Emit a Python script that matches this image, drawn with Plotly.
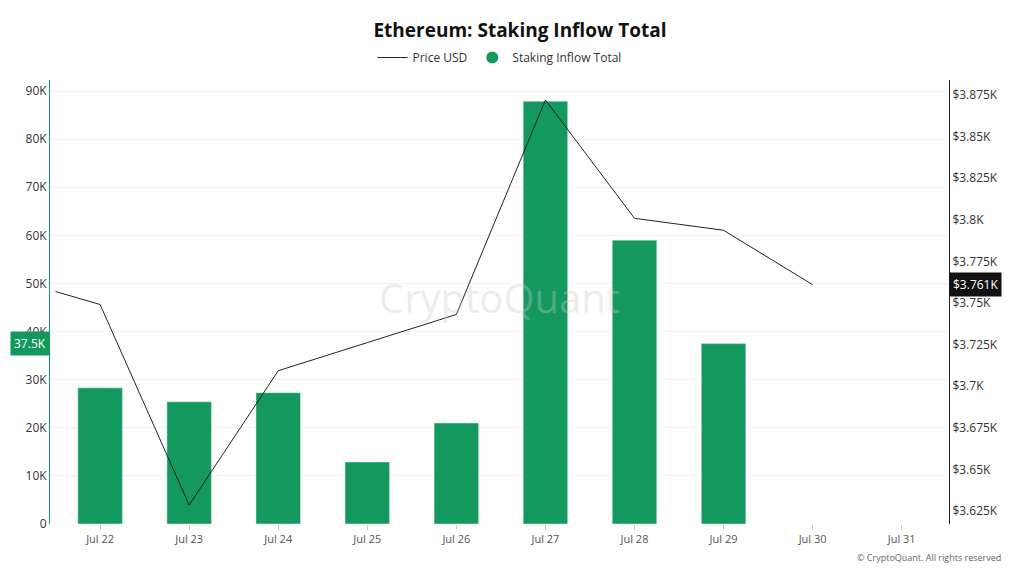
import plotly.graph_objects as go

# staking inflow per day (ETH)
bar_dates = ["2024-07-22", "2024-07-23", "2024-07-24", "2024-07-25", "2024-07-26",
             "2024-07-27", "2024-07-28", "2024-07-29"]
inflow = [28300, 25400, 27300, 12900, 21000, 87900, 59000, 37500]

# ETH price USD
price_dates = ["2024-07-21 12:00", "2024-07-22", "2024-07-23", "2024-07-24", "2024-07-25",
               "2024-07-26", "2024-07-27", "2024-07-28", "2024-07-29", "2024-07-30"]
price = [3756.9, 3749.1, 3628.6, 3709.3, 3726.2, 3743.1, 3872.0, 3800.9, 3793.7, 3761.0]

left_ticks = [0, 10000, 20000, 30000, 40000, 50000, 60000, 70000, 80000, 90000]
left_text = ["0", "10K", "20K", "30K", "40K", "50K", "60K", "70K", "80K", "90K"]
right_ticks = [3625, 3650, 3675, 3700, 3725, 3750, 3775, 3800, 3825, 3850, 3875]
right_text = ["$3.625K", "$3.65K", "$3.675K", "$3.7K", "$3.725K", "$3.75K",
              "$3.775K", "$3.8K", "$3.825K", "$3.85K", "$3.875K"]

green = "#13995d"

fig = go.Figure()
fig.add_trace(go.Scatter(x=price_dates, y=price, name="Price USD", mode="lines",
                         line=dict(color="#222222", width=1), yaxis="y2"))
fig.add_trace(go.Bar(x=bar_dates, y=inflow, name="Staking Inflow Total",
                     marker_color=green, width=0.5 * 86400000, showlegend=False))
# legend entry with round marker, as in the original
fig.add_trace(go.Scatter(x=[None], y=[None], name="Staking Inflow Total", mode="markers",
                         marker=dict(color=green, size=12, symbol="circle")))

fig.update_layout(
    width=1024, height=576,
    margin=dict(l=42, r=83, t=72, b=60, autoexpand=False),
    plot_bgcolor="white", paper_bgcolor="white",
    font=dict(family="Open Sans", size=12, color="#333"),
    title=dict(text="<b>Ethereum: Staking Inflow Total</b>", x=0.5, y=0.962,
               xanchor="center", yanchor="middle",
               font=dict(size=19, color="#111")),
    legend=dict(orientation="h", x=0.5, xanchor="center", yref="container", y=0.914,
                yanchor="middle", font=dict(size=12), traceorder="normal"),
    xaxis=dict(type="date", range=["2024-07-21 10:30", "2024-07-31 12:45"],
               tickvals=["2024-07-%02d" % d for d in range(22, 32)],
               ticktext=["Jul %d" % d for d in range(22, 32)],
               showgrid=False, ticks="outside", ticklen=5, tickcolor="#ccc",
               tickfont=dict(size=11, color="#555"), automargin=False),
    yaxis=dict(range=[0, 92300], tickvals=left_ticks, ticktext=left_text,
               showline=True, linecolor=green, linewidth=1, automargin=False,
               gridcolor="#f3f3f3", tickfont=dict(size=12, color="#333"), zeroline=False),
    yaxis2=dict(overlaying="y", side="right", range=[3617.2, 3884],
                tickvals=right_ticks, ticktext=right_text, showgrid=False,
                showline=True, linecolor="#222", linewidth=1, automargin=False,
                tickfont=dict(size=12, color="#333")),
)

fig.add_annotation(text="37.5K", xref="paper", yref="y", x=0, y=37500, xanchor="right",
                   showarrow=False, bgcolor=green, font=dict(color="white", size=12),
                   borderpad=3)
fig.add_annotation(text="$3.761K", xref="paper", yref="y2", x=1, y=3761, xanchor="left",
                   showarrow=False, bgcolor="#111", font=dict(color="white", size=12),
                   borderpad=3)
fig.add_annotation(text="CryptoQuant", xref="paper", yref="paper", x=0.5, y=0.51,
                   showarrow=False, font=dict(size=40, color="rgba(200,200,205,0.35)"))
fig.add_annotation(text="© CryptoQuant. All rights reserved", xref="paper", yref="paper",
                   x=1.06, y=-0.095, xanchor="right", showarrow=False,
                   font=dict(size=9, color="#666"))

fig.write_html("out.html")
